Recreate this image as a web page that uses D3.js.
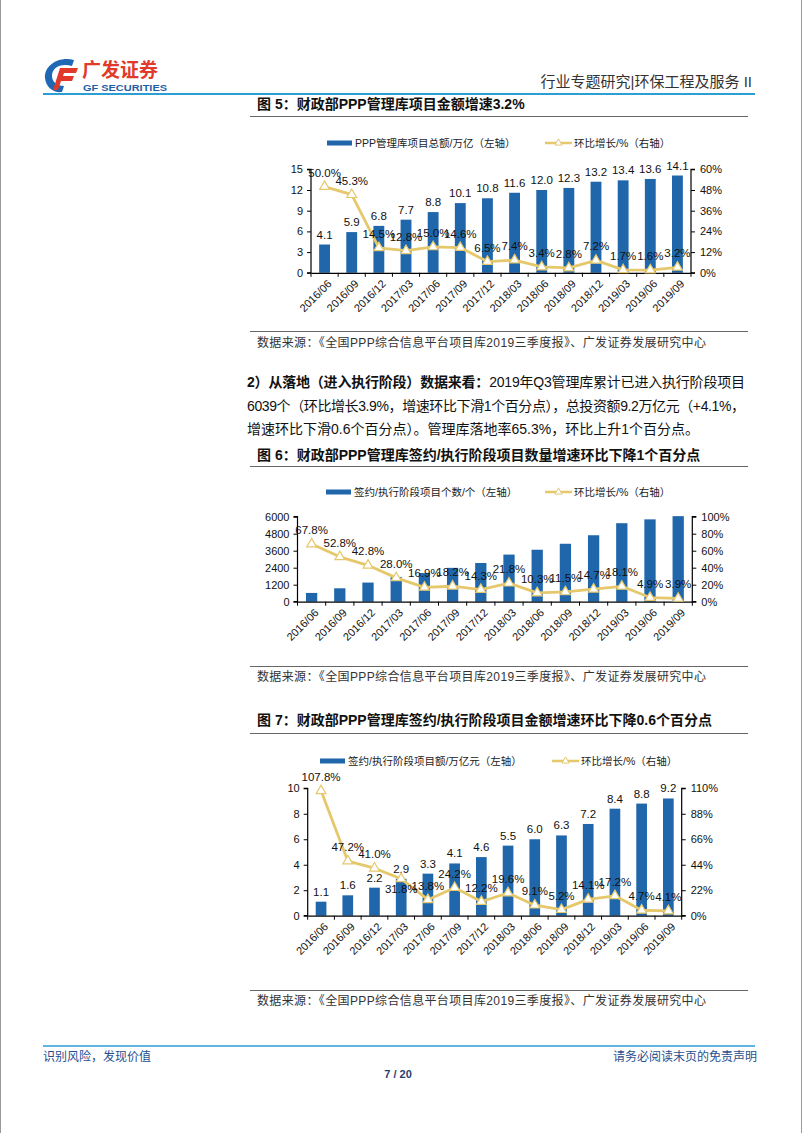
<!DOCTYPE html>
<html><head><meta charset="utf-8">
<script src="https://cdn.jsdelivr.net/npm/d3@7/dist/d3.min.js"></script>
<style>
html,body{margin:0;padding:0;background:#fff;}
svg{display:block;font-family:"Liberation Sans","Noto Sans CJK SC",Arial,sans-serif;}
</style></head>
<body>
<svg id="page" width="802" height="1133"></svg>
<script>
// ---------------- data ----------------
const categories = ["2016/06","2016/09","2016/12","2017/03","2017/06","2017/09","2017/12","2018/03","2018/06","2018/09","2018/12","2019/03","2019/06","2019/09"];

// Fig 5
const totalAmount = [4.1,5.9,6.8,7.7,8.8,10.1,10.8,11.6,12.0,12.3,13.2,13.4,13.6,14.1];
const totalAmountGrowth = [50.0,45.3,14.5,12.8,15.0,14.6,6.5,7.4,3.4,2.8,7.2,1.7,1.6,3.2];
const leftTicks1 = [0,3,6,9,12,15];
const rightTicks1 = [0,12,24,36,48,60];

// Fig 6
const execCount = [619,946,1351,1729,2021,2389,2731,3326,3668,4090,4691,5541,5812,6039];
const execCountGrowth = [67.8,52.8,42.8,28.0,16.9,18.2,14.3,21.8,10.3,11.5,14.7,18.1,4.9,3.9];
const leftTicks2 = [0,1200,2400,3600,4800,6000];
const rightTicks2 = [0,20,40,60,80,100];

// Fig 7
const execAmount = [1.1,1.6,2.2,2.9,3.3,4.1,4.6,5.5,6.0,6.3,7.2,8.4,8.8,9.2];
const execAmountGrowth = [107.8,47.2,41.0,31.8,13.8,24.2,12.2,19.6,9.1,5.2,14.1,17.2,4.7,4.1];
const leftTicks3 = [0,2,4,6,8,10];
const rightTicks3 = [0,22,44,66,88,110];

// ---------------- styles ----------------
const BAR = "#1f66ab";
const GOLD = "#e6c86c";
const FONT = '"Liberation Sans","Noto Sans CJK SC",Arial,sans-serif';
const svg = d3.select("#page");

// page borders
svg.append("line").attr("x1",0.5).attr("x2",0.5).attr("y1",0).attr("y2",1133).attr("stroke","#999");
svg.append("line").attr("x1",801.5).attr("x2",801.5).attr("y1",0).attr("y2",1133).attr("stroke","#999");

// ---------------- header ----------------
const logo = svg.append("g");
logo.append("path").attr("d","M74,60 C58,56 44,66 45,78 C46,88 54,93 62,92 L64,86 C57,86 52,82 52,76 C52,68 60,63 72,66 Z").attr("fill","#1f68b4");
logo.append("path").attr("d","M60,68 L78,68 L76,73 L64,73 L63,76 L74,76 L72,81 L61,81 L58,90 L53,90 Z").attr("fill","#e23a2a");
logo.append("text").attr("x",82).attr("y",77).attr("font-size",19).attr("font-weight","bold").attr("fill","#e03a2b").attr("font-family",'"Noto Sans CJK SC",sans-serif').text("广发证券");
logo.append("text").attr("x",83).attr("y",90.5).attr("font-size",9).attr("font-weight","bold").attr("fill","#1f5fa8").attr("textLength",84).attr("lengthAdjust","spacingAndGlyphs").text("GF SECURITIES");
svg.append("text").attr("x",752).attr("y",87).attr("text-anchor","end").attr("font-size",15).attr("fill","#333").text("行业专题研究|环保工程及服务 II");
svg.append("line").attr("x1",43).attr("x2",755).attr("y1",94).attr("y2",94).attr("stroke","#2b9ed6").attr("stroke-width",2);

// ---------------- titles / text ----------------
function figTitle(y, txt, lineY){
  svg.append("text").attr("x",257).attr("y",y).attr("font-size",14).attr("font-weight","bold").attr("fill","#111").text(txt);
  svg.append("line").attr("x1",250).attr("x2",748).attr("y1",lineY).attr("y2",lineY).attr("stroke","#666").attr("stroke-width",1);
}
function source(lineY, y){
  svg.append("line").attr("x1",250).attr("x2",748).attr("y1",lineY).attr("y2",lineY).attr("stroke","#666").attr("stroke-width",1);
  svg.append("text").attr("x",257).attr("y",y).attr("font-size",12).attr("fill","#333").attr("textLength",449).attr("lengthAdjust","spacing")
    .text("数据来源：《全国PPP综合信息平台项目库2019三季度报》、广发证券发展研究中心");
}
figTitle(109, "图 5：财政部PPP管理库项目金额增速3.2%", 116.5);
source(331.5, 347);

const p1 = svg.append("text").attr("x",247).attr("y",387).attr("font-size",14).attr("fill","#111").attr("textLength",498).attr("lengthAdjust","spacing");
p1.append("tspan").attr("font-weight","bold").text("2）从落地（进入执行阶段）数据来看：");
p1.append("tspan").text("2019年Q3管理库累计已进入执行阶段项目");
svg.append("text").attr("x",247).attr("y",411).attr("font-size",14).attr("fill","#111").attr("textLength",498).attr("lengthAdjust","spacing")
  .text("6039个（环比增长3.9%，增速环比下滑1个百分点），总投资额9.2万亿元（+4.1%，");
svg.append("text").attr("x",247).attr("y",434).attr("font-size",14).attr("fill","#111")
  .text("增速环比下滑0.6个百分点）。管理库落地率65.3%，环比上升1个百分点。");

figTitle(460, "图 6：财政部PPP管理库签约/执行阶段项目数量增速环比下降1个百分点", 466.5);
source(666.5, 681);
figTitle(725, "图 7：财政部PPP管理库签约/执行阶段项目金额增速环比下降0.6个百分点", 733.5);
source(990.5, 1005);

// footer
svg.append("line").attr("x1",43).attr("x2",755).attr("y1",1046).attr("y2",1046).attr("stroke","#2b9ed6").attr("stroke-width",1.5);
svg.append("text").attr("x",43).attr("y",1061).attr("font-size",12).attr("fill","#1f4f8f").text("识别风险，发现价值");
svg.append("text").attr("x",757).attr("y",1061).attr("text-anchor","end").attr("font-size",12).attr("fill","#1f4f8f").text("请务必阅读末页的免责声明");
svg.append("text").attr("x",398).attr("y",1078).attr("text-anchor","middle").attr("font-size",11).attr("font-weight","bold").attr("fill","#1f3f6f").text("7 / 20");

// ---------------- chart function ----------------
function drawChart(cfg){
  const g = svg.append("g");
  const x = d3.scaleBand().domain(categories).range([cfg.xL, cfg.xR]).padding(0);
  const bw = x.bandwidth()*0.4;
  const yL = d3.scaleLinear().domain([0, d3.max(cfg.leftTicks)]).range([cfg.yBot, cfg.yTop]);
  const yR = d3.scaleLinear().domain([0, d3.max(cfg.rightTicks)]).range([cfg.yBot, cfg.yTop]);

  // bars
  g.selectAll("rect.bar").data(cfg.bars).join("rect")
    .attr("x",(d,i)=>x(categories[i])+x.bandwidth()/2-bw/2)
    .attr("y",d=>yL(d)).attr("width",bw).attr("height",d=>cfg.yBot-yL(d)).attr("fill",BAR);

  // axes
  const axL = g.append("g").attr("transform",`translate(${cfg.xL},0)`)
    .call(d3.axisLeft(yL).tickValues(cfg.leftTicks).tickSize(4).tickPadding(4).tickFormat(d3.format("d")));
  const axR = g.append("g").attr("transform",`translate(${cfg.xR},0)`)
    .call(d3.axisRight(yR).tickValues(cfg.rightTicks).tickSize(4).tickPadding(5).tickFormat(d=>d+"%"));
  const axB = g.append("g").attr("transform",`translate(0,${cfg.yBot})`)
    .call(d3.axisBottom(x).tickSize(0).tickFormat(""));
  const bounds = categories.map(c=>x(c)).concat([cfg.xR]);
  g.selectAll("line.xt").data(bounds).join("line").attr("x1",d=>d).attr("x2",d=>d).attr("y1",cfg.yBot).attr("y2",cfg.yBot+4).attr("stroke","#000");
  [axL,axR,axB].forEach(a=>{
    a.select(".domain").attr("stroke","#000").attr("stroke-width",1.2);
    a.selectAll(".tick line").attr("stroke","#000");
    a.selectAll("text").attr("font-size",11).attr("fill","#111").attr("font-family",FONT);
  });
  axL.select(".domain").attr("d",`M-4,${cfg.yTop}H0V${cfg.yBot}H-4`);
  axR.select(".domain").attr("d",`M4,${cfg.yTop}H0V${cfg.yBot}H4`);

  // x labels rotated
  g.selectAll("text.xl").data(categories).join("text")
    .attr("transform",d=>`translate(${x(d)+x.bandwidth()/2+5},${cfg.yBot+9}) rotate(-45)`)
    .attr("text-anchor","end").attr("dy","0.35em").attr("font-size",11).attr("fill","#111").text(d=>d);

  // bar labels
  g.selectAll("text.bl").data(cfg.bars).join("text")
    .attr("x",(d,i)=>x(categories[i])+x.bandwidth()/2).attr("y",d=>yL(d)-6)
    .attr("text-anchor","middle").attr("font-size",11.5).attr("fill","#111")
    .text(d=>cfg.barFmt(d));

  // line
  const line = d3.line().x((d,i)=>x(categories[i])+x.bandwidth()/2).y(d=>yR(d));
  g.append("path").datum(cfg.line).attr("d",line).attr("fill","none").attr("stroke",GOLD).attr("stroke-width",2.8).attr("stroke-linejoin","round");
  const tri = d3.symbol().type(d3.symbolTriangle).size(42);
  g.selectAll("path.mk").data(cfg.line).join("path")
    .attr("transform",(d,i)=>`translate(${x(categories[i])+x.bandwidth()/2},${yR(d)})`)
    .attr("d",tri).attr("fill","#fff").attr("stroke",GOLD).attr("stroke-width",1.2);
  g.selectAll("text.ll").data(cfg.line).join("text")
    .attr("x",(d,i)=>x(categories[i])+x.bandwidth()/2)
    .attr("y",(d,i)=>cfg.below.includes(i) ? yR(d)+14 : yR(d)-10)
    .attr("text-anchor","middle").attr("font-size",11.5).attr("fill","#111")
    .text(d=>d.toFixed(1)+"%");

  // legend
  const L = cfg.legend;
  g.append("rect").attr("x",L.rx).attr("y",L.y-2.5).attr("width",25).attr("height",5).attr("fill",BAR);
  g.append("text").attr("x",L.rx+28).attr("y",L.y).attr("dy","0.35em").attr("font-size",10.5).attr("fill","#222").text(L.barText);
  g.append("line").attr("x1",L.lx).attr("x2",L.lx+27).attr("y1",L.y).attr("y2",L.y).attr("stroke",GOLD).attr("stroke-width",2.5);
  g.append("path").attr("transform",`translate(${L.lx+13.5},${L.y})`).attr("d",d3.symbol().type(d3.symbolTriangle).size(22)).attr("fill","#fff").attr("stroke",GOLD);
  g.append("text").attr("x",L.lx+29).attr("y",L.y).attr("dy","0.35em").attr("font-size",10.5).attr("fill","#222").text(L.lineText);
}

drawChart({xL:311, xR:691, yTop:169.3, yBot:272.8, bars:totalAmount, line:totalAmountGrowth,
  leftTicks:leftTicks1, rightTicks:rightTicks1, barFmt:d=>d.toFixed(1), below:[],
  legend:{y:143, rx:327, lx:545, barText:"PPP管理库项目总额/万亿（左轴）", lineText:"环比增长/%（右轴）"}});

drawChart({xL:297.5, xR:692.3, yTop:516.7, yBot:601.7, bars:execCount, line:execCountGrowth,
  leftTicks:leftTicks2, rightTicks:rightTicks2, barFmt:d=>"", below:[],
  legend:{y:492, rx:326, lx:545, barText:"签约/执行阶段项目个数/个（左轴）", lineText:"环比增长/%（右轴）"}});

drawChart({xL:307.7, xR:681.7, yTop:788.3, yBot:915.7, bars:execAmount, line:execAmountGrowth,
  leftTicks:leftTicks3, rightTicks:rightTicks3, barFmt:d=>d.toFixed(1), below:[3],
  legend:{y:761, rx:320, lx:552, barText:"签约/执行阶段项目额/万亿元（左轴）", lineText:"环比增长/%（右轴）"}});
</script>
</body></html>
